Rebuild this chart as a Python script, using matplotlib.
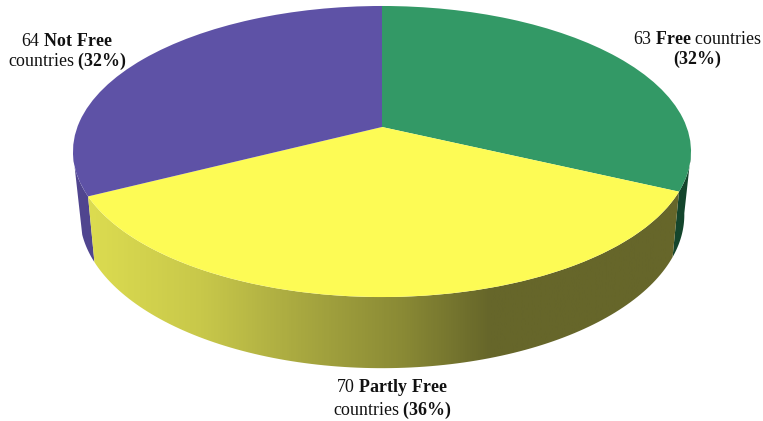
import matplotlib
matplotlib.use("Agg")
import matplotlib.pyplot as plt
import numpy as np
from matplotlib.colors import LinearSegmentedColormap
from matplotlib.patches import Polygon
from matplotlib.path import Path
from matplotlib.transforms import Transform

# data
categories = ["Free", "Partly Free", "Not Free"]
counts = [63, 70, 64]
shares = [32, 36, 32]
labels = [r"63 $\mathbf{Free}$ countries" + "\n" + r"$\mathbf{(32\%)}$",
          r"70 $\mathbf{Partly\ Free}$" + "\n" + r"countries $\mathbf{(36\%)}$",
          r"64 $\mathbf{Not\ Free}$" + "\n" + r"countries $\mathbf{(32\%)}$"]
top_colors = ["#339966", "#FDFB55", "#5E52A6"]
side_colors = ["#14452C", None, "#50458F"]
# shading of the yellow rim from left to right
rim_stops = [(0.0, "#DCDC50"), (0.19, "#C8C84A"), (0.36, "#A8A840"), (0.53, "#8A8A35"), (0.68, "#66662A"), (1.0, "#66662A")]

plt.rcParams["mathtext.fontset"] = "custom"
plt.rcParams["mathtext.rm"] = "Liberation Serif"
plt.rcParams["mathtext.bf"] = "Liberation Serif:bold"
plt.rcParams["font.family"] = "Liberation Serif"

W, H = 763, 421
TILT = 0.1684  # perspective


class Tilted(Transform):
    """unit circle -> tilted disc in picture pixels"""
    input_dims = output_dims = 2

    def __init__(self, cy, sx, sy):
        super().__init__()
        self.cy, self.sx, self.sy = cy, sx, sy

    def transform_non_affine(self, xy):
        xy = np.asarray(xy, float)
        w = 1 + TILT * xy[:, 1]
        return np.column_stack([382 + self.sx * xy[:, 0] / w, self.cy - self.sy * xy[:, 1] / w])

    def transform_path_non_affine(self, path):
        return Path(self.transform_non_affine(path.vertices), path.codes)


top = Tilted(127, 304.6, 141.4)
bottom = Tilted(189, 298, 149)


def rim(tr, a0, a1, n=120):
    t = np.radians(np.linspace(a0, a1, n))
    return tr.transform_non_affine(np.column_stack([np.cos(t), np.sin(t)]))


def side(top0, top1, bot0, bot1):
    return np.vstack([rim(top, top0, top1), rim(bottom, bot1, bot0)])


fig = plt.figure(figsize=(W / 100, H / 100), dpi=100, facecolor="white")
ax = fig.add_axes([0, 0, 1, 1])

wedges, _ = ax.pie(counts, colors=top_colors, startangle=90, counterclock=False, radius=1)
ax.set_aspect("auto")
ax.axis("off")

green_edge, yellow_edge = wedges[0].theta1, wedges[1].theta1

# rim pieces that show below the top face
ax.add_patch(Polygon(side(green_edge, green_edge + 15, green_edge, green_edge + 16), color=side_colors[0], lw=0, zorder=1))
ax.add_patch(Polygon(side(yellow_edge - 17, yellow_edge, yellow_edge - 10, yellow_edge), color=side_colors[2], lw=0, zorder=1))

cmap = LinearSegmentedColormap.from_list("rim", rim_stops)
grad = ax.imshow(np.linspace(0, 1, 600).reshape(1, -1), cmap=cmap, extent=(88, 680, H, 0), aspect="auto", zorder=2)
yellow_side = Polygon(side(yellow_edge, green_edge, yellow_edge, green_edge), fc="none", lw=0)
ax.add_patch(yellow_side)
grad.set_clip_path(yellow_side)
ax.set_xlim(0, W)
ax.set_ylim(H, 0)

for w in wedges:
    w.set_transform(top + ax.transData)
    w.set_zorder(3)
    w.set_linewidth(0)

ax.text(697, 50.5, labels[0], ha="center", va="center", fontsize=12.9, linespacing=1.08, color="#111111")
ax.text(392, 399, labels[1], ha="center", va="center", fontsize=12.9, linespacing=1.08, color="#111111")
ax.text(67, 52.5, labels[2], ha="center", va="center", fontsize=12.9, linespacing=1.08, color="#111111")

fig.savefig("out.png", dpi=100)
